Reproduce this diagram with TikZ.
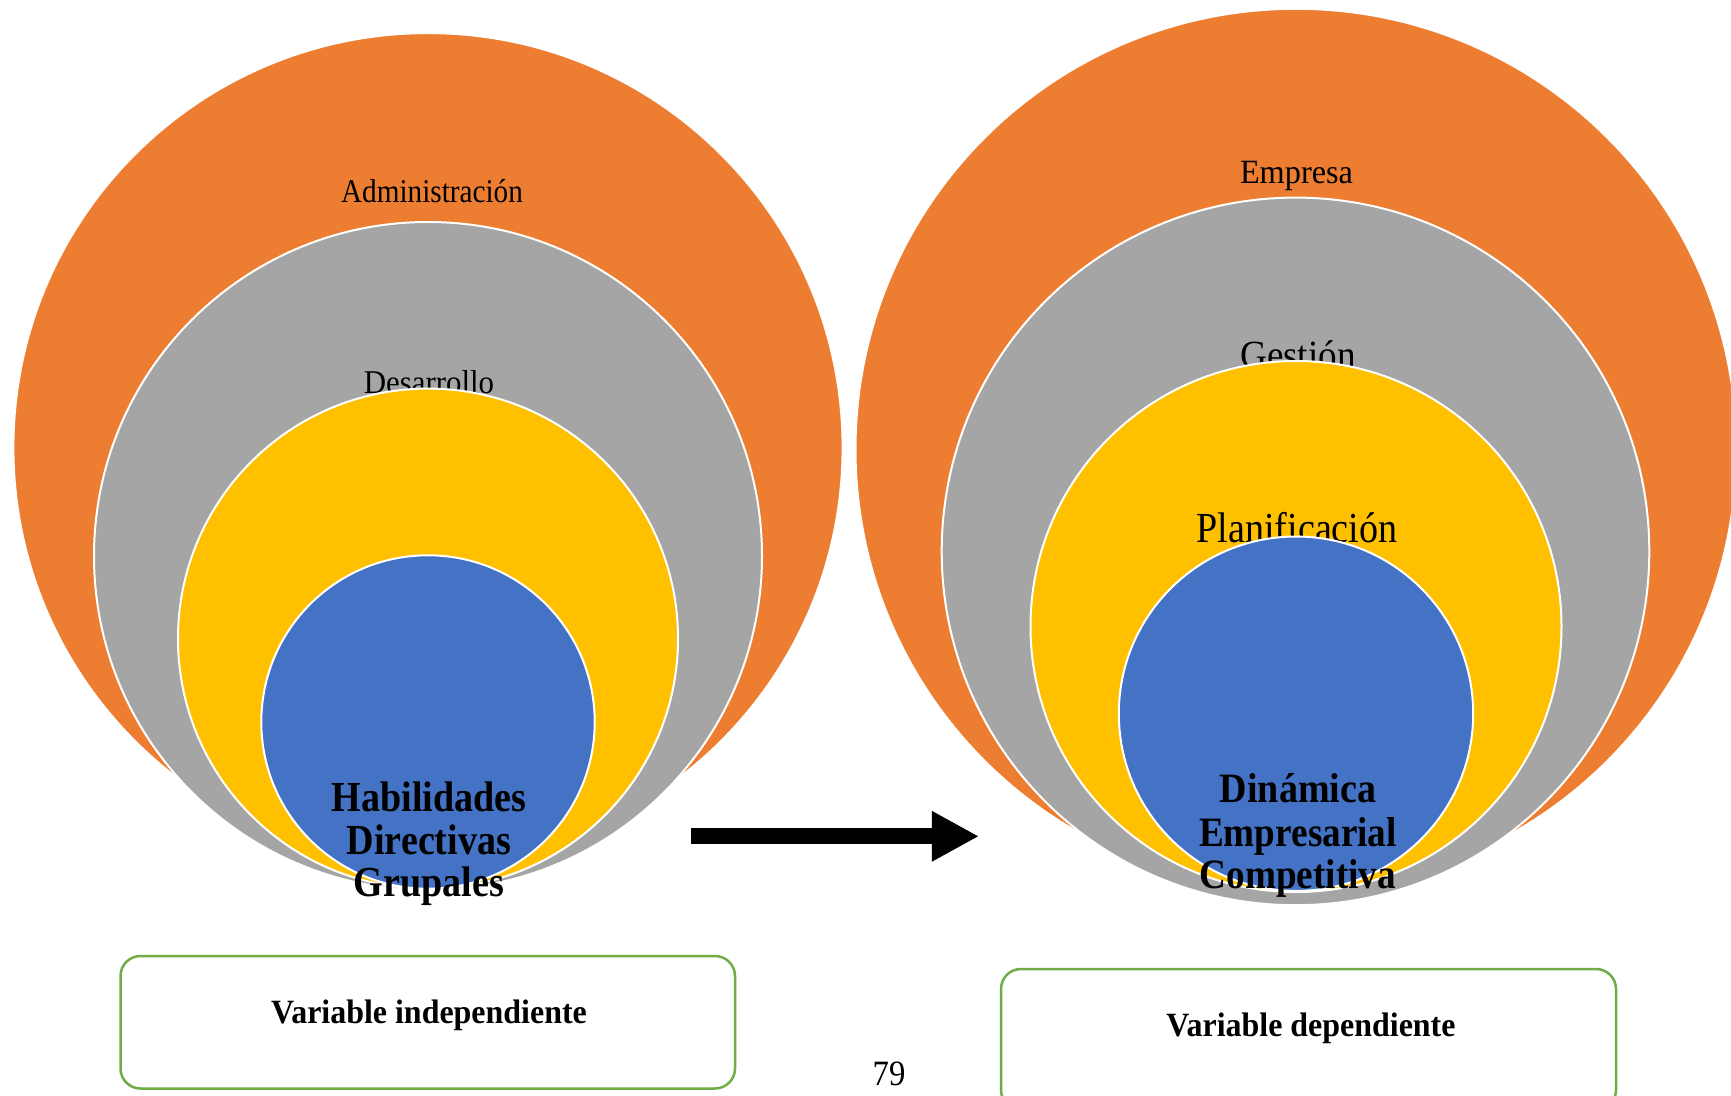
\documentclass[tikz,border=0pt]{standalone}
\usepackage{fontspec}
\setmainfont{Liberation Serif}
\usepackage{graphicx}
\usetikzlibrary{arrows.meta}
\definecolor{corange}{HTML}{ED7D31}
\definecolor{cgray}{HTML}{A5A5A5}
\definecolor{cyellow}{HTML}{FFC000}
\definecolor{cblue}{HTML}{4472C4}
\definecolor{cgreen}{HTML}{70AD47}
\newcommand{\sq}[2]{\scalebox{#1}[1]{#2}}
\tikzset{
  ring/.style={circle, draw=white, line width=1pt, inner sep=0pt, minimum size=#1},
  lbl/.style={inner sep=0pt, anchor=base},
  varbox/.style={draw=cgreen, line width=1.25pt, rounded corners=10pt, fill=white, inner sep=0pt},
}
\begin{document}
\begin{tikzpicture}[x=0.5pt, y=-0.5pt]
\useasboundingbox (0,0) rectangle (1731,1096);
\clip (0,0) rectangle (1731,1096);
\fill[white] (0,0) rectangle (1731,1096);

% ---------- left stack ----------
\node[ring=414.6pt, fill=corange] (lo) at (428,447.7) {};
\node[lbl, font=\fontsize{16.6}{18}\selectfont] (tadm) at (432,202.7) {\sq{0.88}{Administración}};
\node[ring=334pt, fill=cgray] (lg) at (428,556) {};
\node[lbl, font=\fontsize{16.6}{18}\selectfont] (tdes) at (429,394) {\sq{0.93}{Desarrollo}};
\node[ring=250pt, fill=cyellow] (ly) at (428,638.6) {};
\node[ring=166.7pt, fill=cblue] (lb) at (428,722) {};
\node[lbl, font=\bfseries\fontsize{21.4}{22}\selectfont] (thab1) at (429,811.7) {\sq{0.89}{Habilidades}};
\node[lbl, font=\bfseries\fontsize{21.4}{22}\selectfont] (thab2) at (429,854) {\sq{0.89}{Directivas}};
\node[lbl, font=\bfseries\fontsize{21.4}{22}\selectfont] (thab3) at (429,896) {\sq{0.89}{Grupales}};

% ---------- right stack ----------
\node[ring=440.5pt, fill=corange] (ro) at (1296,449.3) {};
\node[lbl, font=\fontsize{17}{18}\selectfont] (temp) at (1296.5,184) {\sq{0.95}{Empresa}};
\node[ring=353.8pt, fill=cgray] (rg) at (1295.5,551.4) {};
\node[lbl, font=\fontsize{20}{22}\selectfont] (tges) at (1298,369) {\sq{0.93}{Gestión}};
\node[ring=265.5pt, fill=cyellow] (ry) at (1296,626.5) {};
\node[lbl, font=\fontsize{21.4}{22}\selectfont] (tpla) at (1297,542.5) {\sq{0.89}{Planificación}};
\node[ring=177.2pt, fill=cblue] (rb) at (1296,713.7) {};
\node[lbl, font=\bfseries\fontsize{20.9}{22}\selectfont] (tdin1) at (1298,802.7) {\sq{0.91}{Dinámica}};
\node[lbl, font=\bfseries\fontsize{20.9}{22}\selectfont] (tdin2) at (1298,846.7) {\sq{0.89}{Empresarial}};
\node[lbl, font=\bfseries\fontsize{20.9}{22}\selectfont] (tdin3) at (1298,888) {\sq{0.89}{Competitiva}};

% ---------- arrow ----------
\coordinate (arrS) at (691,836.3);
\coordinate (arrE) at (979,836.3);
\draw[line width=8pt, -{Triangle[length=23.6pt, width=23.6pt]}] (arrS) -- (arrE);

% ---------- boxes ----------
\node[varbox, minimum width=307.25pt, minimum height=66.25pt] (bind) at (427.75,1022.25) {};
\node[lbl, font=\bfseries\fontsize{17}{18}\selectfont] (tind) at (429,1023) {\sq{0.94}{Variable independiente}};
\node[varbox, minimum width=307.5pt, minimum height=70.5pt] (bdep) at (1308.5,1039.5) {};
\node[lbl, font=\bfseries\fontsize{17}{18}\selectfont] (tdep) at (1311,1036) {\sq{0.94}{Variable dependiente}};

% ---------- page number ----------
\node[lbl, font=\fontsize{17.8}{19}\selectfont] (pnum) at (889,1085.7) {\sq{0.92}{79}};
\end{tikzpicture}
\end{document}
